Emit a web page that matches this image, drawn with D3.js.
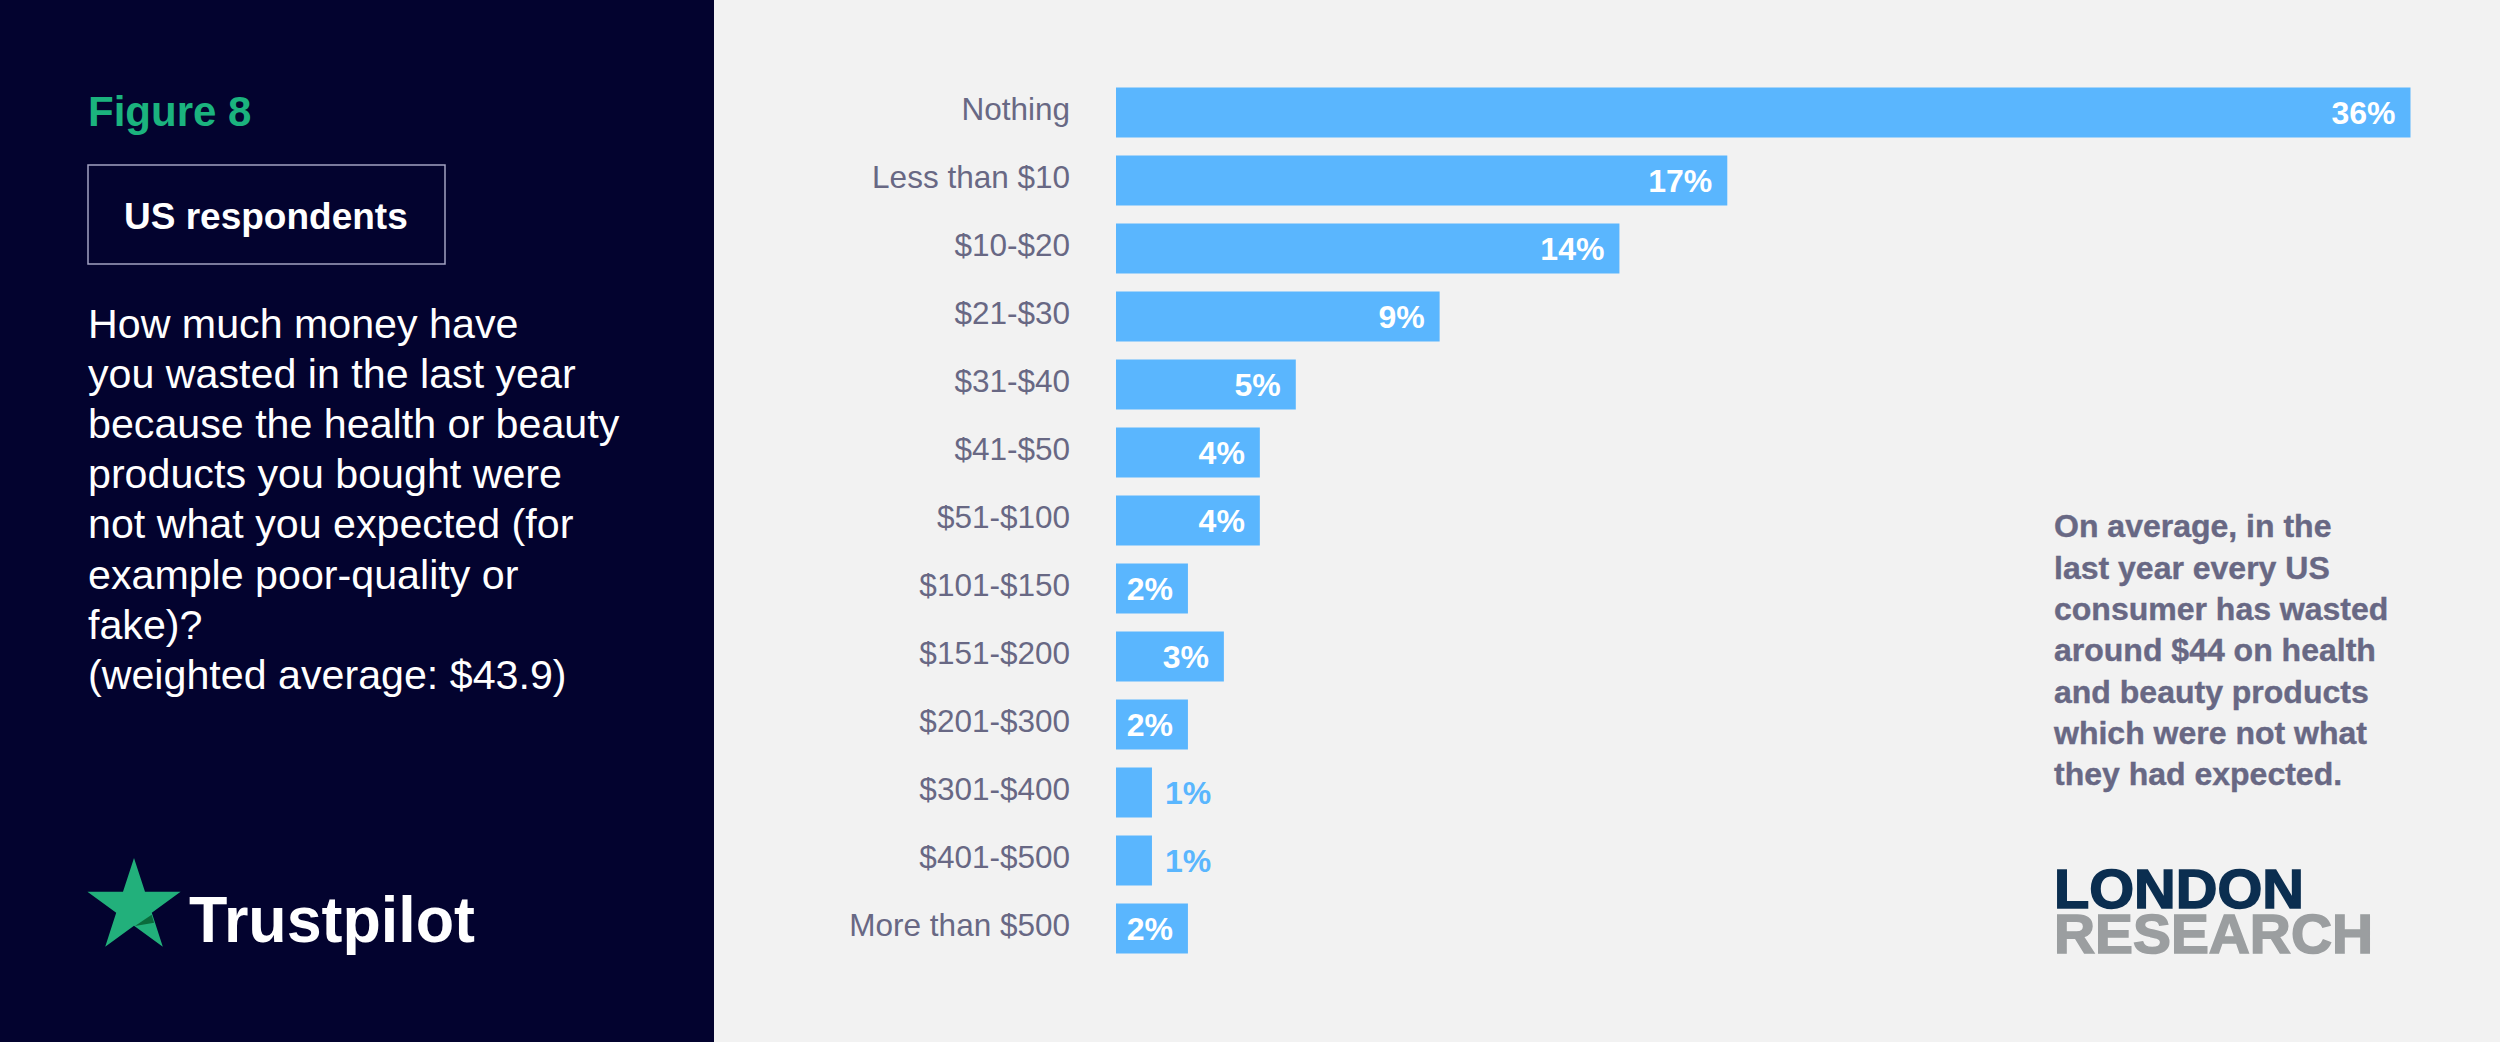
<!DOCTYPE html>
<html>
<head>
<meta charset="utf-8">
<script src="https://cdn.jsdelivr.net/npm/d3@7/dist/d3.min.js"></script>
<style>
  html, body { margin: 0; padding: 0; background: #f2f2f2; }
  svg { display: block; }
  text { font-family: "Liberation Sans", Arial, Helvetica, sans-serif; }
</style>
</head>
<body>
<svg id="chart" width="2500" height="1042"></svg>
<script>
// ---- data ----
const categories = ["Nothing", "Less than $10", "$10-$20", "$21-$30", "$31-$40", "$41-$50",
  "$51-$100", "$101-$150", "$151-$200", "$201-$300", "$301-$400", "$401-$500", "More than $500"];
const values = [36, 17, 14, 9, 5, 4, 4, 2, 3, 2, 1, 1, 2];
const figureLabel = "Figure 8";
const groupLabel = "US respondents";
const questionLines = ["How much money have", "you wasted in the last year", "because the health or beauty",
  "products you bought were", "not what you expected (for", "example poor-quality or", "fake)?",
  "(weighted average: $43.9)"];
const noteLines = ["On average, in the", "last year every US", "consumer has wasted", "around $44 on health",
  "and beauty products", "which were not what", "they had expected."];

// ---- styles ----
const W = 2500, H = 1042;
const panelW = 714;
const navy = "#03032f", green = "#1bb37e", barColor = "#5ab6fe", labelColor = "#686884";

const svg = d3.select("#chart");
svg.append("rect").attr("x", 0).attr("y", 0).attr("width", W).attr("height", H).attr("fill", "#f2f2f2");
svg.append("rect").attr("x", 0).attr("y", 0).attr("width", panelW).attr("height", H).attr("fill", navy);

// ---- left panel ----
svg.append("text").attr("x", 88).attr("y", 126).attr("fill", green)
  .attr("font-size", 42).attr("font-weight", "bold").text(figureLabel);

svg.append("rect").attr("x", 88).attr("y", 165).attr("width", 357).attr("height", 99)
  .attr("fill", "none").attr("stroke", "#a3a3c2").attr("stroke-width", 1.5);
svg.append("text").attr("x", 124).attr("y", 229).attr("fill", "#ffffff")
  .attr("font-size", 37).attr("font-weight", "bold").text(groupLabel);

const q = svg.append("text").attr("fill", "#ffffff").attr("font-size", 41.2);
questionLines.forEach((l, i) => {
  q.append("tspan").attr("x", 88).attr("y", 338 + i * 50.1).text(l);
});

// Trustpilot logo
const cx = 134, cy = 907, R = 49;
const starPts = d3.range(10).map(i => {
  const a = (-90 + i * 36) * Math.PI / 180;
  const r = i % 2 === 0 ? R : R * 0.382;
  return [cx + r * Math.cos(a), cy + r * Math.sin(a)];
});
svg.append("polygon").attr("points", starPts.map(p => p.join(",")).join(" ")).attr("fill", "#22b07b");
svg.append("polygon")
  .attr("points", [[0.02, 0.39], [0.36, 0.16], [0.41, 0.32]]
    .map(p => [cx + p[0] * R, cy + p[1] * R].join(",")).join(" "))
  .attr("fill", "#0b6b3c");
svg.append("text").attr("x", 189).attr("y", 942).attr("fill", "#ffffff")
  .attr("font-size", 64).attr("font-weight", "bold")
  .attr("textLength", 286).attr("lengthAdjust", "spacingAndGlyphs").text("Trustpilot");

// ---- bars ----
const y = d3.scaleBand().domain(categories).range([87.5, 953.5]).paddingInner(18 / 68).paddingOuter(0);
const x = d3.scaleLinear().domain([0, 36]).range([1116, 2410.5]);
const data = categories.map((c, i) => ({ c, v: values[i] }));

svg.append("g").selectAll("rect").data(data).join("rect")
  .attr("x", x(0)).attr("y", d => y(d.c))
  .attr("width", d => x(d.v) - x(0)).attr("height", y.bandwidth())
  .attr("fill", barColor);

svg.append("g").selectAll("text").data(data).join("text")
  .attr("x", 1070).attr("y", d => y(d.c) + y.bandwidth() / 2 + 7.5)
  .attr("text-anchor", "end").attr("fill", labelColor).attr("font-size", 31.5)
  .text(d => d.c);

svg.append("g").selectAll("text").data(data).join("text")
  .attr("x", d => d.v > 1 ? x(d.v) - 15 : x(d.v) + 13)
  .attr("y", d => y(d.c) + y.bandwidth() / 2 + 11.5)
  .attr("text-anchor", d => d.v > 1 ? "end" : "start")
  .attr("fill", d => d.v > 1 ? "#ffffff" : barColor)
  .attr("font-size", 32).attr("font-weight", "bold")
  .text(d => d.v + "%");

// ---- annotation ----
const n = svg.append("text").attr("fill", labelColor).attr("font-size", 32).attr("font-weight", "bold")
  .attr("stroke", labelColor).attr("stroke-width", 0.4);
noteLines.forEach((l, i) => {
  n.append("tspan").attr("x", 2054).attr("y", 537.3 + i * 41.3).text(l);
});

// London Research logo (one text element, two lines)
const logo = svg.append("text").attr("font-size", 56).attr("font-weight", "bold").attr("stroke-width", 1.6);
logo.append("tspan").attr("x", 2054).attr("y", 908).attr("fill", "#0b2e50").attr("stroke", "#0b2e50")
  .attr("textLength", 250).attr("lengthAdjust", "spacingAndGlyphs").text("LONDON");
logo.append("tspan").attr("x", 2054).attr("y", 953).attr("fill", "#9b9ea0").attr("stroke", "#9b9ea0")
  .attr("textLength", 319).attr("lengthAdjust", "spacingAndGlyphs").text("RESEARCH");
</script>
</body>
</html>
